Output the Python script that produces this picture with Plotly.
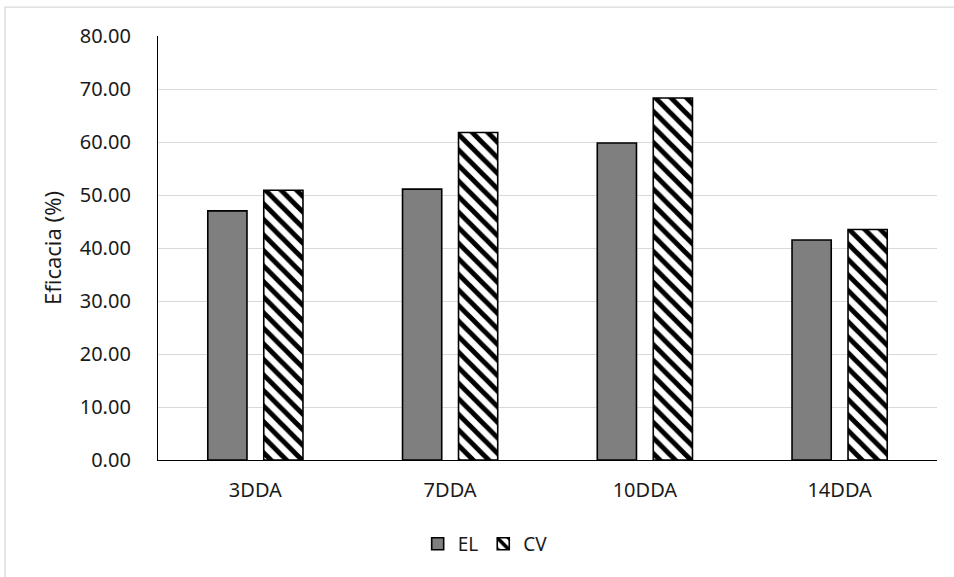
import plotly.graph_objects as go

# Days after application and treatment efficacy (%)
categories = ["3DDA", "7DDA", "10DDA", "14DDA"]
el_values = [47.0, 51.1, 59.8, 41.5]
cv_values = [50.9, 61.8, 68.3, 43.5]
y_ticks = [0, 10, 20, 30, 40, 50, 60, 70, 80]

FONT = "Noto Sans"
TEXT = "#1a1a1a"

fig = go.Figure()
fig.add_trace(go.Bar(
    name="EL", x=categories, y=el_values,
    marker=dict(color="#7f7f7f", line=dict(color="black", width=1.6)),
))
fig.add_trace(go.Bar(
    name="CV", x=categories, y=cv_values,
    marker=dict(
        color="white",
        line=dict(color="black", width=1.6),
        pattern=dict(shape="\\", fgcolor="black", bgcolor="white",
                     size=11, solidity=0.45, fillmode="replace"),
    ),
))

fig.update_layout(
    width=954, height=577,
    margin=dict(l=158, r=17, t=36, b=117),
    paper_bgcolor="white", plot_bgcolor="white",
    barmode="group", bargap=0.425, bargroupgap=0.30,
    font=dict(family=FONT, size=20, color=TEXT),
    showlegend=True,
    legend=dict(orientation="h", x=0.42, xanchor="center", y=-0.198, yanchor="middle",
                font=dict(size=19, color=TEXT), itemwidth=30, traceorder="normal"),
    xaxis=dict(
        showline=True, linecolor="black", linewidth=1.3,
        showgrid=False, ticks="", ticklabelstandoff=12,
        tickfont=dict(size=20, color=TEXT),
    ),
    yaxis=dict(
        range=[0, 80], tickvals=y_ticks, tickformat=".2f",
        showline=True, linecolor="black", linewidth=1.3,
        showgrid=True, gridcolor="#d9d9d9", gridwidth=1.3,
        zeroline=False, ticks="", ticklabelstandoff=22,
        tickfont=dict(size=20, color=TEXT),
        title=dict(text="Eficacia (%)", font=dict(size=22, color=TEXT), standoff=12),
    ),
    shapes=[dict(
        type="rect", xref="paper", yref="paper",
        x0=-0.1964, x1=1.05, y0=-0.32, y1=1.068,
        line=dict(color="#d9d9d9", width=1.3), fillcolor="rgba(0,0,0,0)",
        layer="below",
    )],
)

fig.write_html("out.html")
